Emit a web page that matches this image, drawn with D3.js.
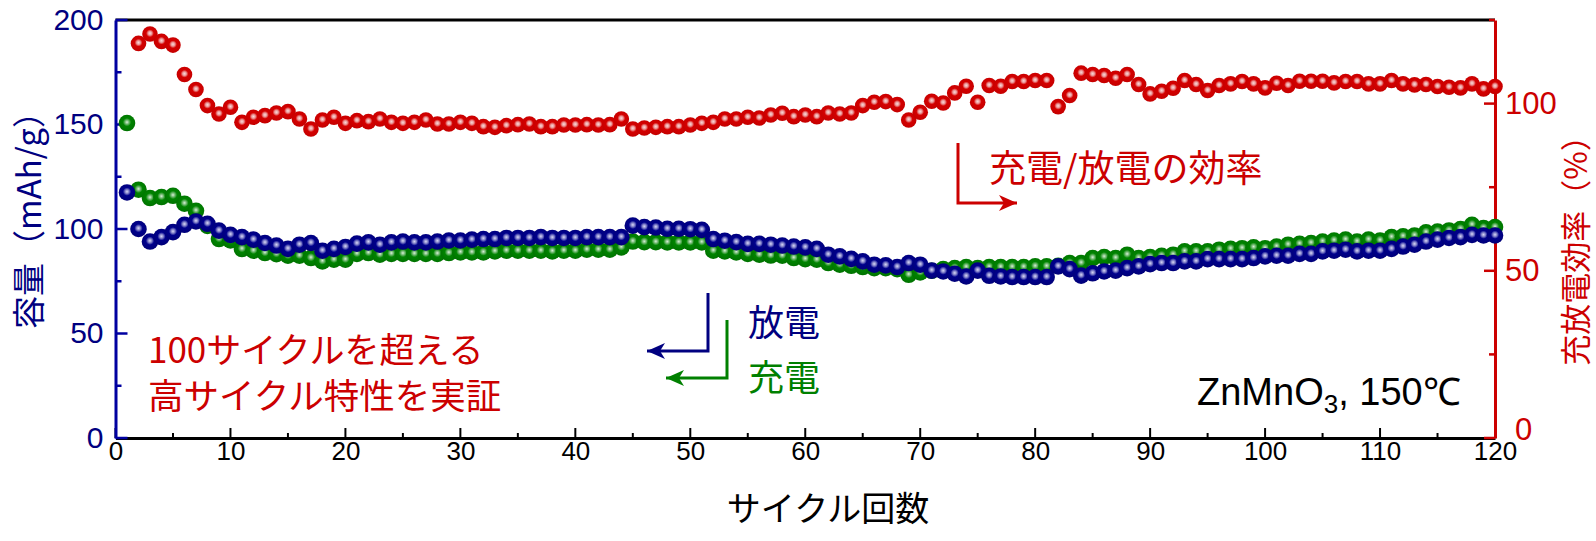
<!DOCTYPE html>
<html><head><meta charset="utf-8">
<script src="https://cdn.jsdelivr.net/npm/d3@7/dist/d3.min.js"></script>
<style>body{margin:0;background:#fff}svg{display:block}</style>
</head><body>
<svg id="chart" width="1596" height="541"></svg>
<script>
const cycles = d3.range(1, 121);
const discharge = [117.5,100.0,94.0,96.1,98.5,102.0,103.6,102.5,99.2,97.2,
96.1,94.9,93.3,92.1,90.5,92.5,93.3,89.6,90.5,91.4,
93.0,93.6,92.5,93.6,94.0,93.6,93.6,94.0,94.5,94.5,
94.9,95.2,95.2,95.7,95.7,95.7,96.1,95.7,95.7,95.7,
96.1,96.1,96.1,96.1,101.6,100.9,100.7,100.1,100.1,99.9,
99.6,95.2,94.4,93.7,92.9,92.9,92.5,92.1,91.6,91.2,
90.5,87.7,86.9,85.7,84.5,82.9,82.6,81.8,83.7,82.9,
80.1,79.7,78.6,77.3,80.1,77.6,77.3,77.0,77.0,77.0,
77.0,82.1,80.8,77.7,78.8,79.7,80.1,81.3,82.1,83.2,
83.7,83.7,84.5,84.5,85.6,85.6,85.6,85.6,86.1,86.9,
87.2,87.2,88.1,88.1,89.3,89.6,90.1,89.3,89.6,89.6,
90.5,91.6,92.5,94.0,94.9,95.7,96.1,97.2,96.9,96.9];
const charge = [150.7,118.8,114.8,115.3,115.9,112.1,108.7,101.5,95.2,94.5,
90.4,89.6,88.5,88.0,87.2,87.2,86.1,84.5,85.3,85.3,
88.1,88.5,87.7,88.1,88.1,88.1,88.1,88.1,88.5,88.8,
88.8,88.8,89.3,89.6,89.6,89.6,89.6,89.3,89.6,89.6,
90.1,90.1,90.1,91.2,94.0,93.7,93.7,93.6,93.6,93.6,
93.6,89.6,89.3,88.8,88.1,87.7,87.3,87.2,86.1,85.6,
85.3,83.7,82.9,82.4,81.8,81.3,81.3,80.8,78.1,79.2,
80.0,80.8,81.3,81.8,81.3,81.8,81.8,81.8,81.8,82.1,
82.1,82.4,83.7,83.7,86.1,86.6,86.1,87.7,86.1,86.6,
87.2,87.7,89.3,89.3,89.3,90.1,90.5,90.8,91.2,90.8,
91.6,92.5,92.9,93.3,94.0,94.5,94.9,94.0,94.9,94.5,
96.1,96.5,96.9,98.4,98.8,99.3,100.0,102.0,100.5,100.9];
const efficiency = [null,118.0,120.8,118.6,117.5,108.7,104.2,99.4,96.9,98.9,
94.4,95.9,96.4,97.2,97.6,95.4,92.4,95.1,95.9,94.1,
94.9,94.6,95.4,94.4,94.1,94.4,95.1,93.9,93.9,94.4,
94.1,93.1,92.9,93.4,93.7,93.9,93.1,93.1,93.6,93.6,
93.7,93.6,93.7,95.4,92.4,92.7,92.9,93.1,93.1,93.6,
94.1,94.4,95.4,95.4,95.9,95.7,96.6,97.1,96.1,96.6,
96.1,97.2,96.9,97.2,99.4,100.4,100.6,99.7,95.1,97.4,
100.7,100.2,103.2,105.2,100.4,105.4,105.2,106.6,106.6,106.9,
106.9,99.1,102.4,109.1,108.7,108.4,107.6,108.7,105.7,102.9,
103.7,104.6,106.9,105.7,103.9,105.4,105.9,106.6,105.9,104.7,
106.1,105.4,106.7,106.7,106.7,106.2,106.6,106.6,105.9,105.9,
106.9,105.9,105.6,105.7,105.1,104.9,104.7,105.9,104.4,105.1];
const xTicks = [0,10,20,30,40,50,60,70,80,90,100,110,120];
const leftTicks = [0,50,100,150,200];
const rightTicks = [0,50,100];

const C = {blue:'#000080', blueAxis:'#0000a0', red:'#cc0000', green:'#008000'};
const JP = '"Noto Sans CJK JP", sans-serif';
const AR = '"Liberation Sans", Arial, sans-serif';
const NARROW = '"Liberation Sans Narrow", "Arial Narrow", "Liberation Sans", sans-serif';

const L = 115.5, R = 1495, T = 20, B = 438;
const svg = d3.select('#chart');
const x = d3.scaleLinear().domain([0,120]).range([L,R]);
const yL = d3.scaleLinear().domain([0,200]).range([B,T]);
const yR = d3.scaleLinear().domain([0,125]).range([B,T]);

// gradients
const defs = svg.append('defs');
function grad(id, stops){
  const g = defs.append('radialGradient').attr('id',id).attr('cx','50%').attr('cy','45%').attr('r','55%');
  stops.forEach(([o,c])=>g.append('stop').attr('offset',o).attr('stop-color',c));
}
grad('gRed',[[0,'#f8dada'],[0.22,'#ec9a9a'],[0.45,'#d40000'],[1,'#c40000']]);
grad('gBlue',[[0,'#d8d8f4'],[0.22,'#8080c8'],[0.45,'#00008c'],[1,'#000078']]);
grad('gGreen',[[0,'#d8f0d8'],[0.22,'#70b870'],[0.45,'#008400'],[1,'#007200']]);

// frame
svg.append('line').attr('x1',L).attr('x2',R).attr('y1',T).attr('y2',T).attr('stroke','#000').attr('stroke-width',3);

// bottom axis
const xAxis = d3.axisBottom(x).tickValues(xTicks).tickSize(0).tickPadding(0).tickFormat(d3.format('d'));
const gx = svg.append('g').attr('transform',`translate(0,${B})`).call(xAxis);
gx.select('.domain').attr('stroke','#000').attr('stroke-width',3);
gx.selectAll('text').attr('font-family',NARROW).attr('font-size',26).attr('fill','#000').attr('dy','0.35em').attr('y',13);
const xMinor = d3.range(0,121,5);
svg.append('g').selectAll('line').data(xMinor).join('line')
  .attr('x1',d=>x(d)).attr('x2',d=>x(d)).attr('y1',B).attr('y2',d=>B-(d%10===0?10:5))
  .attr('stroke','#000').attr('stroke-width',2);

// left axis
const gl = svg.append('g').attr('transform',`translate(${L},0)`)
  .call(d3.axisLeft(yL).tickValues(leftTicks).tickSize(0).tickPadding(6));
gl.select('.domain').attr('stroke',C.blueAxis).attr('stroke-width',3);
gl.selectAll('text').attr('font-family',AR).attr('font-size',30).attr('fill',C.blue).attr('x',-12).attr('dy','0.3em');
svg.append('g').selectAll('line').data(d3.range(0,201,25)).join('line')
  .attr('x1',L).attr('x2',d=>L+(d%50===0?12:6)).attr('y1',d=>yL(d)).attr('y2',d=>yL(d))
  .attr('stroke',C.blueAxis).attr('stroke-width',2.5);

// right axis
const gr = svg.append('g').attr('transform',`translate(${R},0)`)
  .call(d3.axisRight(yR).tickValues(rightTicks).tickSize(0).tickPadding(10));
gr.select('.domain').attr('stroke',C.red).attr('stroke-width',3);
gr.selectAll('text').attr('font-family',AR).attr('font-size',31).attr('fill',C.red)
  .attr('dy',d=>d===0?'0.05em':'0.32em').attr('x',d=>d===0?20:10);
svg.append('g').selectAll('line').data(d3.range(0,126,25)).join('line')
  .attr('x1',R).attr('x2',d=>R-(d%50===0?11:6)).attr('y1',d=>yR(d)).attr('y2',d=>yR(d))
  .attr('stroke',C.red).attr('stroke-width',2.5);

// data
function series(vals, scale, fill, r){
  svg.append('g').selectAll('circle')
    .data(cycles.map((c,i)=>({c,v:vals[i]})).filter(d=>d.v!=null))
    .join('circle').attr('cx',d=>x(d.c)).attr('cy',d=>scale(d.v)).attr('r',r).attr('fill',fill);
}
series(charge, yL, 'url(#gGreen)', 8.3);
series(discharge, yL, 'url(#gBlue)', 8.3);
series(efficiency, yR, 'url(#gRed)', 7.8);

// axis titles
svg.append('text').attr('transform','translate(27,212) rotate(-90)')
  .attr('text-anchor','middle').attr('dominant-baseline','central')
  .attr('font-family',JP).attr('font-size',33).attr('fill',C.blue).text('容量（mAh/g）');
svg.append('text').attr('transform','translate(1573,243) rotate(-90)')
  .attr('text-anchor','middle').attr('dominant-baseline','central')
  .attr('font-family',JP).attr('font-size',31).attr('fill',C.red).text('充放電効率（%）');
svg.append('text').attr('x',828).attr('y',506).attr('text-anchor','middle').attr('dominant-baseline','central')
  .attr('font-family',JP).attr('font-size',34).attr('fill','#000').text('サイクル回数');

// annotations
function arrow(points, color){
  const g = svg.append('g');
  g.append('polyline').attr('points',points.map(p=>p.join(',')).join(' '))
    .attr('fill','none').attr('stroke',color).attr('stroke-width',3);
  const [p1,p0] = [points[points.length-2], points[points.length-1]];
  const dir = Math.sign(p0[0]-p1[0]);
  const tip = p0[0], yy = p0[1];
  g.append('path').attr('d',`M${tip},${yy} L${tip-dir*18},${yy-8} L${tip-dir*13},${yy} L${tip-dir*18},${yy+8} Z`).attr('fill',color);
}
arrow([[958,143],[958,203],[1017,203]], C.red);
arrow([[708,293],[708,351],[647,351]], C.blue);
arrow([[727,320],[727,378],[666,378]], C.green);

svg.append('text').attr('x',989).attr('y',166).attr('dominant-baseline','central')
  .attr('font-family',JP).attr('font-size',37).attr('fill',C.red).text('充電/放電の効率');
svg.append('text').attr('x',748).attr('y',320).attr('dominant-baseline','central')
  .attr('font-family',JP).attr('font-size',36).attr('fill',C.blue).text('放電');
svg.append('text').attr('x',748).attr('y',375).attr('dominant-baseline','central')
  .attr('font-family',JP).attr('font-size',36).attr('fill',C.green).text('充電');
svg.append('text').attr('x',148).attr('y',347).attr('dominant-baseline','central')
  .attr('font-family',JP).attr('font-size',35).attr('fill',C.red).text('100サイクルを超える');
svg.append('text').attr('x',148).attr('y',393).attr('dominant-baseline','central')
  .attr('font-family',JP).attr('font-size',35.5).attr('fill',C.red).text('高サイクル特性を実証');

const zt = svg.append('text').attr('x',1197).attr('y',405)
  .attr('font-family',AR).attr('font-size',38).attr('fill','#000');
zt.append('tspan').text('ZnMnO');
zt.append('tspan').attr('font-size',26).attr('dy',8).text('3');
zt.append('tspan').attr('dy',-8).text(', 150℃');
</script>
</body></html>
